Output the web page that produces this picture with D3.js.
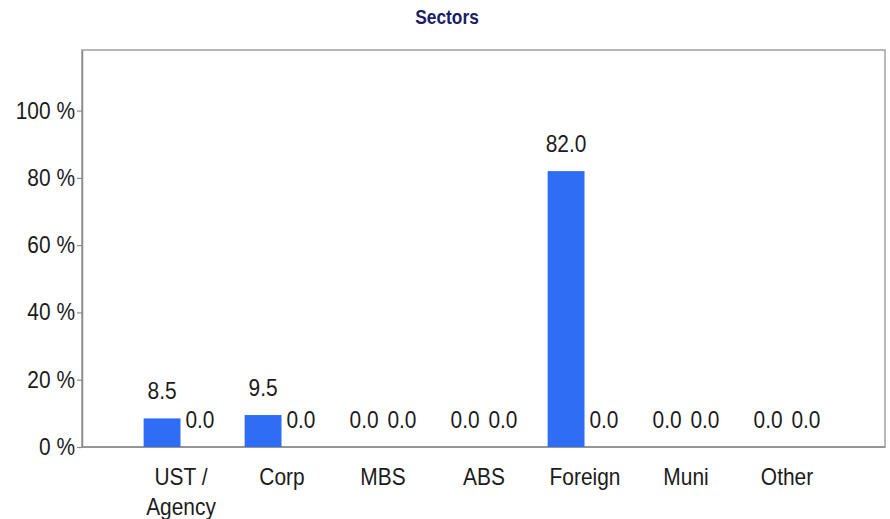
<!DOCTYPE html>
<html>
<head>
<meta charset="utf-8">
<script src="https://cdn.jsdelivr.net/npm/d3@7"></script>
<style>
  html, body { margin: 0; padding: 0; background: #fff; }
  svg { display: block; }
  text { font-family: "Liberation Sans Narrow", "Arial Narrow", "Liberation Sans", Arial, sans-serif; }
</style>
</head>
<body>
<svg id="chart" width="890" height="519"></svg>
<script>
// Sector allocation (percent of portfolio)
const categories = ["UST / Agency", "Corp", "MBS", "ABS", "Foreign", "Muni", "Other"];
const seriesNames = ["Portfolio", "Benchmark"];
const portfolioValues = [8.5, 9.5, 0.0, 0.0, 82.0, 0.0, 0.0];
const benchmarkValues = [0.0, 0.0, 0.0, 0.0, 0.0, 0.0, 0.0];
const yTicks = [0, 20, 40, 60, 80, 100];
const title = "Sectors";

const seriesValues = [portfolioValues, benchmarkValues];
const rows = categories.map((c, i) => ({
  category: c,
  values: seriesNames.map((s, k) => ({ series: s, value: seriesValues[k][i] }))
}));

const svg = d3.select("#chart");
const plot = { left: 82, right: 885, top: 50, bottom: 447 };
const fontSize = 23.5;
const narrow = 0.89;          // horizontal squeeze for a condensed look
const textColor = "#1c1c1c";
const barColor = "#2f6df4";

const y = d3.scaleLinear().domain([0, 118]).range([plot.bottom, plot.top]);
const x0 = d3.scaleBand().domain(categories).range([130.5, 837.5])
  .paddingInner(0.25).paddingOuter(0.125);
const x1 = d3.scaleBand().domain(seriesNames).range([0, x0.bandwidth()]);

// Title
svg.append("text")
  .attr("x", 447).attr("y", 24)
  .attr("text-anchor", "middle")
  .attr("font-size", 19.5).attr("font-weight", "bold")
  .attr("fill", "#1b1f66")
  .text(title);

// Plot frame
svg.append("rect")
  .attr("x", plot.left).attr("y", plot.top)
  .attr("width", plot.right - plot.left).attr("height", plot.bottom - plot.top)
  .attr("fill", "none").attr("stroke", "#a0a0a0").attr("stroke-width", 1.5);

// Y axis
const yAxis = d3.axisLeft(y).tickValues(yTicks).tickSize(5).tickSizeOuter(0).tickPadding(2)
  .tickFormat(d => d + " %");
const gy = svg.append("g").attr("transform", `translate(${plot.left},0)`).call(yAxis);
gy.select(".domain").attr("stroke", "#8a8a8a").attr("stroke-width", 1.5);
gy.selectAll(".tick line").attr("stroke", "#8a8a8a").attr("stroke-width", 1.2);
gy.selectAll(".tick text")
  .attr("font-size", fontSize).attr("fill", textColor)
  .attr("font-family", null);

// X axis baseline and category labels
const xAxis = d3.axisBottom(x0).tickSize(0).tickPadding(0).tickFormat("");
const gx = svg.append("g").attr("transform", `translate(0,${plot.bottom})`).call(xAxis);
gx.select(".domain").remove();
svg.append("line")
  .attr("x1", plot.left).attr("x2", plot.right)
  .attr("y1", y(0)).attr("y2", y(0))
  .attr("stroke", "#8a8a8a").attr("stroke-width", 1.5);

gx.attr("font-family", null);
gx.selectAll(".tick").each(function(d) {
  const g = d3.select(this);
  const parts = d.includes(" / ") ? [d.split(" / ")[0] + " /", d.split(" / ")[1]] : [d];
  const t = g.append("text")
    .attr("text-anchor", "middle")
    .attr("font-size", fontSize).attr("fill", textColor);
  parts.forEach((p, i) => {
    t.append("tspan").attr("x", 0).attr("y", 38 + i * 30).text(p);
  });
});

// Bars
const groups = svg.append("g").selectAll("g").data(rows).join("g")
  .attr("transform", d => `translate(${x0(d.category)},0)`);

groups.selectAll("rect").data(d => d.values).join("rect")
  .attr("x", d => x1(d.series) + 0.5)
  .attr("width", x1.bandwidth() - 1)
  .attr("y", d => y(d.value))
  .attr("height", d => y(0) - y(d.value))
  .attr("fill", barColor);

// Value labels
groups.selectAll("text.val").data(d => d.values).join("text")
  .attr("class", "val")
  .attr("x", d => x1(d.series) + x1.bandwidth() / 2)
  .attr("y", d => y(d.value) - 19)
  .attr("text-anchor", "middle")
  .attr("font-size", fontSize).attr("fill", textColor)
  .text(d => d.value.toFixed(1));

// Condense every text horizontally around its anchor point
svg.selectAll("text").each(function() {
  const t = d3.select(this);
  const x = +t.attr("x") || 0;
  t.attr("x", x / narrow).attr("transform", `scale(${narrow},1)`);
});
</script>
</body>
</html>
